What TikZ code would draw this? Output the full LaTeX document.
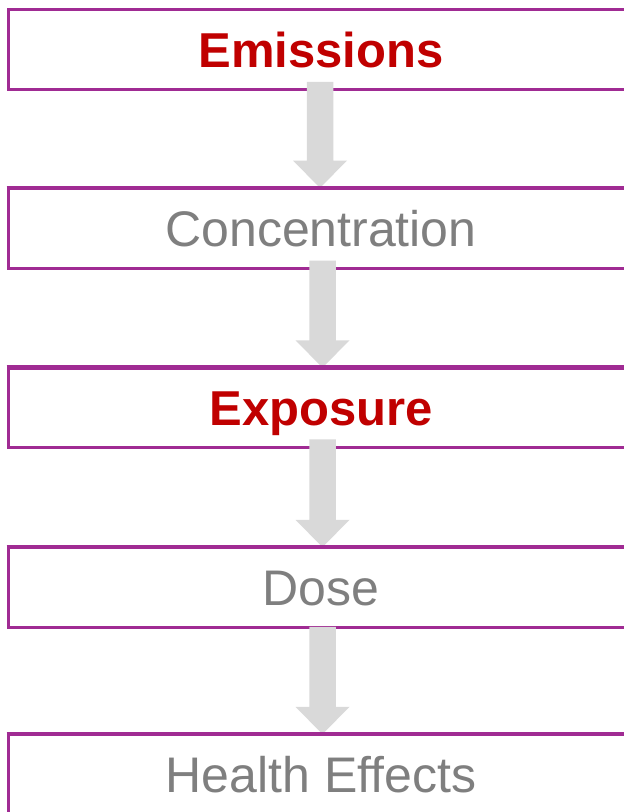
\documentclass[tikz,border=0pt]{standalone}
\usepackage{fontspec}
\setmainfont{Liberation Sans}
\usetikzlibrary{calc}
\definecolor{boxpurple}{HTML}{A02B93}
\definecolor{arrowgray}{HTML}{D9D9D9}
\definecolor{txtgray}{HTML}{7F7F7F}
\definecolor{txtred}{HTML}{C00000}
% #1 from box, #2 to box, #3 x offset, #4 shaft start above #1.south
\newcommand{\flowarrow}[4]{%
  \fill[arrowgray]
    ($(#1.south)+(#3-13.25,-#4)$) -- ($(#1.south)+(#3+13.25,-#4)$)
    -- ($(#2.north)+(#3+13.25,-26.5)$) -- ($(#2.north)+(#3+27,-26.5)$)
    -- ($(#2.north)+(#3,1)$)
    -- ($(#2.north)+(#3-27,-26.5)$) -- ($(#2.north)+(#3-13.25,-26.5)$) -- cycle;}
\begin{document}
\begin{tikzpicture}[x=1pt,y=-1pt,
  boxline/.style={draw=boxpurple, line width=3pt},
  stagebox/.style={boxline, fill=white, minimum width=626pt, minimum height=79.5pt,
    inner sep=0pt, text height=35.8pt, text depth=0pt, text=txtgray,
    font=\fontsize{50}{60}\selectfont},
  keystage/.style={text=txtred, text height=35.1pt,
    font=\fontsize{49}{59}\selectfont\bfseries}]
\useasboundingbox (0,0) rectangle (624,812);
\clip (0,0) rectangle (624,812);
\fill[white] (0,0) rectangle (624,812);
\node[stagebox, keystage] (b1) at (321,49.5) {Emissions};
\node[stagebox] (b2) at (321,228.25) {Concentration};
\node[stagebox, keystage] (b3) at (321,408) {Exposure};
\node[stagebox] (b4) at (321,587.5) {Dose};
\node[stagebox] (b5) at (321,774.5) {Health Effects};
\flowarrow{b1}{b2}{-1}{9}
\flowarrow{b2}{b3}{1.5}{9}
\flowarrow{b3}{b4}{1.5}{10}
\flowarrow{b4}{b5}{1.5}{2}
\foreach \b in {b2,b3,b4,b5}
  \draw[boxline] (\b.north west) -- (\b.north east);
\end{tikzpicture}
\end{document}
